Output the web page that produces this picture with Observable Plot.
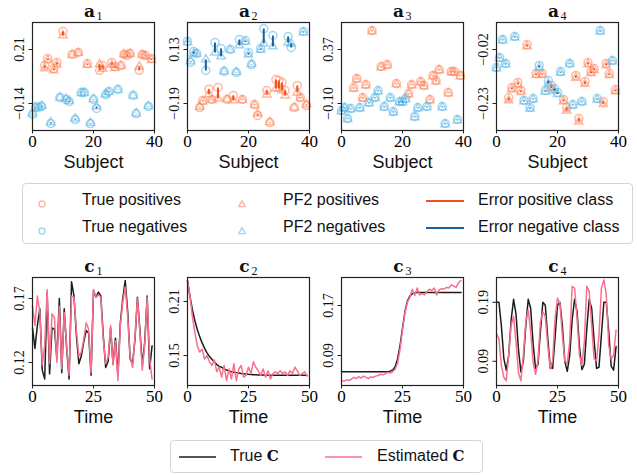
<!DOCTYPE html>
<html><head><meta charset="utf-8">
<script src="https://cdn.jsdelivr.net/npm/d3@7"></script>
<script src="https://cdn.jsdelivr.net/npm/@observablehq/plot@0.6"></script>
<style>
body{margin:0;background:#fff;}
#root{position:relative;width:637px;height:475px;overflow:hidden;font-family:"Liberation Sans",sans-serif;}
.panel{position:absolute;}
.leg{position:absolute;border:1px solid #d4d4d4;border-radius:4px;background:#fff;box-sizing:border-box;}
.li{position:absolute;font-size:16px;color:#111;line-height:16px;white-space:nowrap;}
.sym{position:absolute;}
</style></head><body><div id="root"></div><script>
// ---------- data ----------
const subjects = d3.range(40);
const classes = [0,0,0,0,1,1,0,1,1,0,1,0,0,1,0,1,0,0,1,0,0,0,1,1,0,0,1,1,0,1,1,1,1,0,0,1,1,1,0,1];

const a1True = [-0.211,-0.166,-0.166,-0.159,0.106,0.152,-0.270,0.087,0.126,-0.101,0.327,-0.114,-0.127,0.178,-0.244,0.191,-0.069,-0.069,0.119,-0.270,-0.114,-0.172,0.075,0.106,-0.082,-0.062,0.126,0.100,-0.049,0.106,0.178,0.171,0.184,-0.088,-0.205,0.075,0.178,0.171,-0.159,0.152];
const a1PF2  = [-0.205,-0.163,-0.166,-0.155,0.088,0.140,-0.262,0.075,0.112,-0.101,0.302,-0.110,-0.124,0.176,-0.238,0.188,-0.072,-0.069,0.110,-0.266,-0.111,-0.160,0.115,0.085,-0.080,-0.066,0.110,0.090,-0.051,0.104,0.178,0.175,0.182,-0.088,-0.203,0.100,0.175,0.168,-0.157,0.142];

const a2True = [0.179,0.055,0.118,0.106,-0.214,-0.172,0.006,-0.105,-0.166,0.171,-0.095,0.136,0.001,-0.166,0.130,-0.143,-0.006,0.189,-0.166,0.183,0.112,0.041,-0.196,-0.261,0.136,0.254,-0.113,-0.303,0.213,-0.048,-0.054,-0.066,-0.113,0.207,0.142,-0.214,-0.083,-0.154,0.237,-0.202];
const a2PF2  = [0.172,0.060,0.106,0.104,-0.210,-0.178,0.071,-0.135,-0.170,0.112,-0.160,0.089,0.000,-0.166,0.128,-0.172,-0.004,0.154,-0.170,0.175,0.100,0.043,-0.200,-0.250,0.128,0.166,-0.137,-0.300,0.148,-0.101,-0.101,-0.113,-0.143,0.171,0.165,-0.214,-0.125,-0.160,0.231,-0.196];

const a3True = [-0.161,-0.135,-0.231,-0.144,0.039,0.118,-0.135,-0.048,0.065,-0.091,0.535,-0.048,0.013,0.222,-0.126,0.239,-0.048,-0.170,0.074,-0.083,-0.083,-0.056,-0.013,0.065,-0.213,-0.135,0.091,0.057,-0.126,-0.065,0.144,0.100,0.196,-0.126,-0.274,-0.004,0.179,0.179,-0.239,0.144];
const a3PF2  = [-0.168,-0.140,-0.236,-0.150,0.030,0.110,-0.142,-0.056,0.058,-0.098,0.528,-0.054,0.006,0.214,-0.133,0.232,-0.055,-0.177,0.066,-0.090,-0.090,-0.063,-0.020,0.058,-0.220,-0.142,0.084,0.050,-0.133,-0.072,0.137,0.092,0.189,-0.133,-0.281,-0.011,0.172,0.172,-0.246,0.137];

const a4True = [-0.090,-0.051,0.019,-0.074,-0.207,-0.168,0.031,-0.148,-0.179,-0.218,-0.001,-0.246,-0.211,-0.113,-0.082,-0.113,-0.179,-0.141,-0.160,-0.172,-0.187,-0.106,-0.214,-0.246,-0.074,-0.234,-0.121,-0.288,-0.222,-0.144,-0.071,-0.106,-0.094,-0.211,0.054,-0.222,-0.074,-0.113,-0.063,-0.176];
const a4PF2  = [-0.093,-0.055,0.016,-0.078,-0.218,-0.175,0.027,-0.156,-0.186,-0.222,-0.008,-0.250,-0.214,-0.120,-0.090,-0.118,-0.184,-0.152,-0.170,-0.180,-0.193,-0.110,-0.222,-0.258,-0.077,-0.237,-0.130,-0.300,-0.225,-0.154,-0.078,-0.112,-0.100,-0.215,0.050,-0.232,-0.082,-0.120,-0.066,-0.183];

const time = d3.range(50);
const c1True = [0.147,0.131,0.149,0.162,0.114,0.107,0.175,0.111,0.147,0.146,0.123,0.170,0.112,0.162,0.131,0.107,0.183,0.172,0.141,0.119,0.125,0.136,0.145,0.143,0.110,0.176,0.171,0.175,0.172,0.141,0.116,0.121,0.147,0.119,0.139,0.110,0.151,0.170,0.184,0.160,0.123,0.119,0.138,0.171,0.146,0.118,0.136,0.172,0.115,0.133];
const c1Est  = [0.164,0.149,0.172,0.159,0.118,0.133,0.177,0.119,0.158,0.155,0.120,0.164,0.115,0.159,0.133,0.110,0.172,0.171,0.145,0.125,0.128,0.138,0.151,0.146,0.112,0.177,0.171,0.173,0.171,0.138,0.119,0.124,0.149,0.118,0.137,0.106,0.149,0.167,0.179,0.156,0.125,0.116,0.140,0.170,0.144,0.114,0.134,0.171,0.123,0.107];
const c2True = [0.233,0.216,0.201,0.189,0.179,0.171,0.164,0.158,0.153,0.149,0.146,0.143,0.140,0.138,0.137,0.135,0.134,0.133,0.132,0.1315,0.131,0.1305,0.130,0.1297,0.1294,0.1291,0.1289,0.1287,0.1286,0.1285,0.1284,0.1283,0.1282,0.1282,0.1281,0.1281,0.1281,0.128,0.128,0.128,0.128,0.128,0.128,0.128,0.128,0.128,0.128,0.128,0.128,0.128];
const c2Est  = [0.233,0.217,0.193,0.176,0.161,0.154,0.157,0.146,0.150,0.143,0.139,0.145,0.132,0.137,0.126,0.139,0.122,0.135,0.124,0.141,0.122,0.135,0.139,0.126,0.128,0.137,0.130,0.143,0.137,0.133,0.128,0.135,0.126,0.133,0.124,0.130,0.132,0.130,0.133,0.130,0.132,0.128,0.133,0.130,0.137,0.133,0.128,0.130,0.132,0.127];
const c3True = [0.064,0.064,0.064,0.064,0.064,0.064,0.064,0.064,0.064,0.064,0.064,0.064,0.064,0.064,0.064,0.064,0.064,0.064,0.064,0.064,0.065,0.067,0.072,0.085,0.106,0.134,0.160,0.177,0.185,0.189,0.190,0.191,0.191,0.191,0.191,0.191,0.191,0.191,0.191,0.191,0.191,0.191,0.191,0.191,0.191,0.191,0.191,0.191,0.191,0.191];
const c3Est  = [0.050,0.049,0.051,0.050,0.052,0.055,0.053,0.056,0.054,0.057,0.055,0.053,0.056,0.055,0.057,0.058,0.060,0.059,0.061,0.063,0.062,0.064,0.068,0.078,0.100,0.130,0.158,0.175,0.183,0.196,0.186,0.198,0.187,0.189,0.187,0.192,0.196,0.194,0.198,0.187,0.195,0.197,0.196,0.199,0.198,0.203,0.201,0.199,0.207,0.210];
const c4True = [0.190,0.190,0.150,0.095,0.075,0.100,0.160,0.195,0.170,0.110,0.072,0.090,0.150,0.195,0.180,0.120,0.078,0.085,0.140,0.190,0.185,0.130,0.080,0.078,0.130,0.185,0.190,0.150,0.090,0.073,0.100,0.160,0.195,0.175,0.115,0.076,0.085,0.145,0.195,0.180,0.125,0.078,0.080,0.135,0.190,0.190,0.140,0.082,0.075,0.115];
const c4Est  = [0.137,0.128,0.083,0.063,0.057,0.100,0.151,0.166,0.123,0.071,0.057,0.100,0.157,0.177,0.140,0.088,0.068,0.091,0.157,0.174,0.166,0.117,0.077,0.091,0.163,0.197,0.188,0.134,0.091,0.086,0.123,0.217,0.214,0.163,0.100,0.083,0.123,0.217,0.208,0.151,0.094,0.091,0.134,0.214,0.228,0.203,0.117,0.094,0.100,0.143];

const aTitles = ["1","2","3","4"];
const cTitles = ["1","2","3","4"];
const aDomains = [[-0.315,0.385],[-0.35,0.29],[-0.335,0.605],[-0.335,0.085]];
const aYTicks = [[-0.14,0.21],[-0.19,0.13],[-0.10,0.37],[-0.23,-0.02]];
const aYTickLabels = [["\u22120.14","0.21"],["\u22120.19","0.13"],["\u22120.10","0.37"],["\u22120.23","\u22120.02"]];
const cDomains = [[0.102,0.1864],[0.1167,0.2367],[0.042,0.2148],[0.049,0.232]];
const cYTicks = [[0.12,0.17],[0.15,0.21],[0.09,0.17],[0.09,0.19]];
const cYTickLabels = [["0.12","0.17"],["0.15","0.21"],["0.09","0.17"],["0.09","0.19"]];
const aXTicks = [0,20,40];
const cXTicks = [0,25,50];
const legendTopLabels = ["True positives","True negatives","PF2 positives","PF2 negatives","Error positive class","Error negative class"];
const legendBottomLabels = ["True ","Estimated "];

// ---------- style ----------
const COL = {pos:"#ff8a63", neg:"#62bde8", errPos:"#f4511e", errNeg:"#1a5fa0", trueC:"#1c1c1c", estC:"#fb6f8e"};
const SERIF = "Liberation Serif";
const frameX = [32,187,341,496];
const root = document.getElementById("root");

function commonMarks(title, sub, yt, ytl, xt, xlabel) {
  return [
    Plot.frame({stroke:"#222", strokeWidth:1.2}),
    Plot.axisX({ticks:xt, tickSize:3.5, tickPadding:1, fontSize:17, fontFamily:SERIF, label:null, stroke:"#222"}),
    Plot.axisY({ticks:yt, tickSize:3.5, tickFormat:()=>"", label:null, stroke:"#222"}),
    Plot.text(yt, {y:d=>d, text:(d,i)=>ytl[i], frameAnchor:"left", dx:-9, rotate:-90, textAnchor:"middle", lineAnchor:"bottom", fontSize:14, fontFamily:SERIF, fill:"#111"}),
    Plot.text([title], {frameAnchor:"top", dx:-4, dy:-6, lineAnchor:"bottom", fontWeight:"bold", fontSize:17, fontFamily:"DejaVu Serif", fill:"#111"}),
    Plot.text([sub], {frameAnchor:"top", dx:6, dy:-3, lineAnchor:"bottom", fontSize:12, fontFamily:SERIF, fill:"#111"}),
    Plot.text([xlabel], {frameAnchor:"bottom", dy:32, lineAnchor:"middle", fontSize:18, fontFamily:"Liberation Sans", fill:"#111"})
  ];
}

function place(svg, left, top) {
  const d = document.createElement("div");
  d.className = "panel";
  d.style.left = left + "px"; d.style.top = top + "px";
  d.appendChild(svg);
  root.appendChild(d);
}

const aTrue = [a1True,a2True,a3True,a4True];
const aPF2 = [a1PF2,a2PF2,a3PF2,a4PF2];
for (let k = 0; k < 4; k++) {
  const rows = subjects.map((s,i)=>({s, cls:classes[i], t:aTrue[k][i], p:aPF2[k][i]}));
  const pos = rows.filter(d=>d.cls===1), neg = rows.filter(d=>d.cls===0);
  const dotOpts = (y, sym, c, r) => ({x:"s", y, r, symbol:sym, fill:"none", stroke:c, strokeOpacity:0.6, strokeWidth:1.5});
  const svg = Plot.plot({
    width:166, height:175, marginLeft:32, marginRight:12, marginTop:22, marginBottom:45,
    style:"background:transparent;overflow:visible;",
    x:{domain:[0,40]}, y:{domain:aDomains[k]},
    marks:[
      Plot.dot(pos, dotOpts("t","circle",COL.pos,4)),
      Plot.dot(pos, dotOpts("p","triangle",COL.pos,3.1)),
      Plot.dot(neg, dotOpts("t","circle",COL.neg,4)),
      Plot.dot(neg, dotOpts("p","triangle",COL.neg,3.1)),
      Plot.link(pos, {x1:"s", x2:"s", y1:"t", y2:"p", stroke:COL.errPos, strokeWidth:2}),
      Plot.link(neg, {x1:"s", x2:"s", y1:"t", y2:"p", stroke:COL.errNeg, strokeWidth:2}),
      ...commonMarks("a", aTitles[k], aYTicks[k], aYTickLabels[k], aXTicks, "Subject")
    ]
  });
  place(svg, frameX[k]-32, 0);
}

const cTrue = [c1True,c2True,c3True,c4True];
const cEst = [c1Est,c2Est,c3Est,c4Est];
for (let k = 0; k < 4; k++) {
  const rows = time.map((t,i)=>({t, tr:cTrue[k][i], es:cEst[k][i]}));
  const svg = Plot.plot({
    width:166, height:175, marginLeft:32, marginRight:12, marginTop:22, marginBottom:45,
    style:"background:transparent;overflow:visible;",
    x:{domain:[0,50]}, y:{domain:cDomains[k]},
    marks:[
      Plot.line(rows, {x:"t", y:"tr", stroke:COL.trueC, strokeWidth:1.5}),
      Plot.line(rows, {x:"t", y:"es", stroke:COL.estC, strokeWidth:1.5}),
      ...commonMarks("c", cTitles[k], cYTicks[k], cYTickLabels[k], cXTicks, "Time")
    ]
  });
  place(svg, frameX[k]-32, 255);
}

// ---------- legends ----------
function addDiv(cls, css, html) {
  const d = document.createElement("div");
  d.className = cls; d.style.cssText = css; if (html) d.innerHTML = html;
  root.appendChild(d); return d;
}
addDiv("leg", "left:22px;top:183px;width:611px;height:61px;");
const circ = c => `<svg width="10" height="10"><circle cx="5" cy="5" r="3" fill="none" stroke="${c}" stroke-opacity="0.6" stroke-width="1.4"/></svg>`;
const tri = c => `<svg width="10" height="10"><path d="M5,1.6L8.2,7.6L1.8,7.6Z" fill="none" stroke="${c}" stroke-opacity="0.6" stroke-width="1.4"/></svg>`;
const ln = c => `<svg width="38" height="4"><line x1="0" y1="2" x2="38" y2="2" stroke="${c}" stroke-width="2"/></svg>`;
const rowsY = [200, 227];
addDiv("sym", `left:37px;top:${rowsY[0]-5}px;`, circ(COL.pos));
addDiv("sym", `left:37px;top:${rowsY[1]-5}px;`, circ(COL.neg));
addDiv("sym", `left:237px;top:${rowsY[0]-5}px;`, tri(COL.pos));
addDiv("sym", `left:237px;top:${rowsY[1]-5}px;`, tri(COL.neg));
addDiv("sym", `left:426px;top:${rowsY[0]-2}px;line-height:0;`, ln(COL.errPos));
addDiv("sym", `left:426px;top:${rowsY[1]-2}px;line-height:0;`, ln(COL.errNeg));
const colX = [82, 283, 478];
legendTopLabels.forEach((t,i)=>{
  const col = Math.floor(i/2), row = i%2;
  addDiv("li", `left:${colX[col]}px;top:${rowsY[row]-8}px;`).textContent = t;
});

addDiv("leg", "left:170px;top:440px;width:313px;height:33px;");
addDiv("sym", "left:179px;top:454px;line-height:0;", `<svg width="37" height="4"><line x1="0" y1="2" x2="37" y2="2" stroke="${COL.trueC}" stroke-width="1.5"/></svg>`);
addDiv("sym", "left:325px;top:454px;line-height:0;", `<svg width="37" height="4"><line x1="0" y1="2" x2="37" y2="2" stroke="${COL.estC}" stroke-width="1.5"/></svg>`);
const bx = [230, 377];
legendBottomLabels.forEach((t,i)=>{
  const d = addDiv("li", `left:${bx[i]}px;top:448px;`);
  d.appendChild(document.createTextNode(t));
  const b = document.createElement("span");
  b.style.cssText = "font-family:'DejaVu Serif',serif;font-weight:bold;font-size:15px;";
  b.textContent = "C";
  d.appendChild(b);
});
</script></body></html>
